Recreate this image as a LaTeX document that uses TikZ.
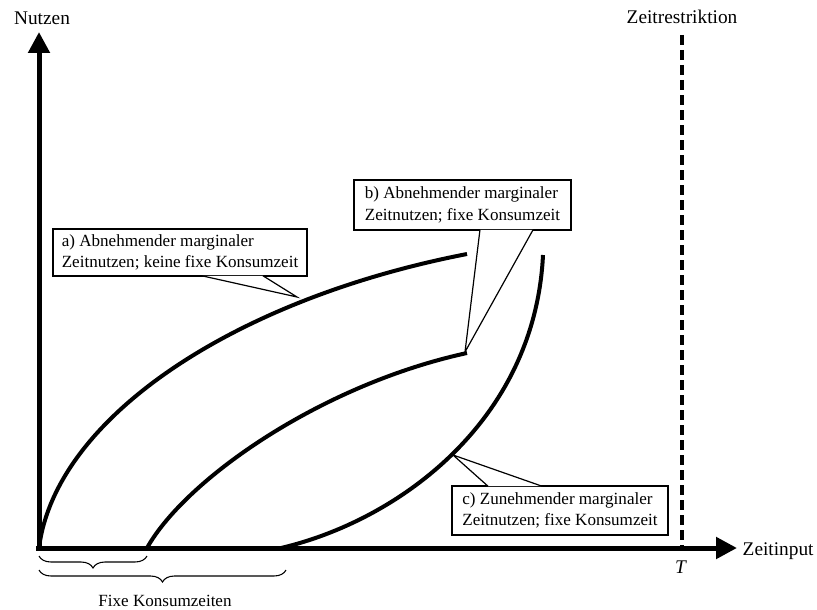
\documentclass[tikz,border=0pt]{standalone}
\usepackage{fontspec}
\setmainfont{Liberation Serif}
\usetikzlibrary{arrows.meta,decorations.pathreplacing}

\begin{document}
\begin{tikzpicture}[x=0.75pt,y=-0.75pt,
    achse/.style={line width=3.75pt,-{Triangle[length=15.75pt,width=15.75pt]}},
    kurve/.style={line width=3pt},
    kasten/.style={draw,line width=0.9pt,fill=white,align=left,font=\fontsize{12.8}{16}\selectfont},
    zeiger/.style={line width=0.9pt,fill=white},
    klammer/.style={line width=0.8pt,decorate,decoration={brace,mirror,amplitude=9pt}},
    beschriftung/.style={font=\fontsize{14.5}{17}\selectfont}
    ]
    \useasboundingbox (0,0) rectangle (817,610);

    % Achsen
    \coordinate (o) at (39,548);
    \coordinate (ymax) at (39,32);
    \coordinate (xmax) at (737,548);
    \node[beschriftung] (nutzen) at (42,18) {Nutzen};
    \node[beschriftung, anchor=west] (zeitinput) at (738,551) {Zeitinput};
    \draw[achse] ([yshift=-1.9pt]o) -- (ymax);
    \draw[achse] ([xshift=-1.9pt]o) -- (xmax);

    % Zeitrestriktion
    \coordinate (zr) at (682,35);
    \coordinate (t) at (682,548);
    \node[beschriftung] (zeitr) at (682,17) {Zeitrestriktion};
    \node[beschriftung] (T) at (681,567) {\textit{T}};
    \draw[line width=3pt, dash pattern=on 7.5pt off 3.75pt] (zr) -- (t);

    % Nutzenkurven
    \coordinate (a1) at (467,254);
    \coordinate (b0) at (147,548);
    \coordinate (b1) at (467,353);
    \coordinate (c0) at (281,548);
    \coordinate (c1) at (543,255);
    \draw[kurve] (o) .. controls (55,420) and (230,300) .. (a1);
    \draw[kurve] (b0) .. controls (185,480) and (320,385) .. (b1);
    \draw[kurve] (c0) .. controls (400,520) and (535,420) .. (c1);

    % Legenden
    \node[kasten, minimum width=190.5pt, minimum height=35.25pt] (boxa) at (180,252.5)
      {a) Abnehmender marginaler\\Zeitnutzen; keine fixe Konsumzeit};
    \node[kasten, minimum width=162.75pt, minimum height=37.5pt] (boxb) at (462.5,205)
      {b) Abnehmender marginaler\\Zeitnutzen; fixe Konsumzeit};
    \node[kasten, minimum width=162pt, minimum height=36.75pt] (boxc) at (560,510.5)
      {c) Zunehmender marginaler\\Zeitnutzen; fixe Konsumzeit};
    \coordinate (tipa) at (297,297);
    \coordinate (tipb) at (465,352);
    \coordinate (tipc) at (453,455);
    \draw[zeiger] ([xshift=16.5pt,yshift=0.6pt]boxa.south) -- (tipa) -- ([xshift=62.25pt,yshift=0.6pt]boxa.south);
    \draw[zeiger] ([xshift=13.1pt,yshift=0.6pt]boxb.south) -- (tipb) -- ([xshift=52.9pt,yshift=0.6pt]boxb.south);
    \draw[zeiger] ([xshift=-54pt,yshift=-0.6pt]boxc.north) -- (tipc) -- ([xshift=-13.5pt,yshift=-0.6pt]boxc.north);

    % Fixe Konsumzeiten
    \coordinate (c0k) at (286,548);
    \draw[klammer] ([yshift=-6pt]o) -- ([yshift=-6pt]b0);
    \draw[klammer] ([yshift=-16.5pt]o) -- ([yshift=-16.5pt]c0k);
    \node[font=\fontsize{12.8}{16}\selectfont] (fixe) at (165,601) {Fixe Konsumzeiten};
  \end{tikzpicture}
\end{document}
